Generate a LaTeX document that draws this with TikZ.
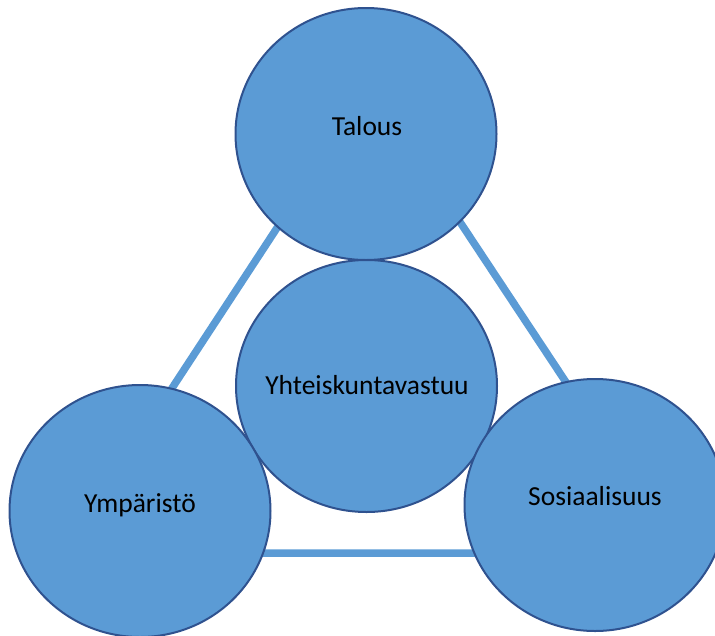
\documentclass[tikz,border=0pt]{standalone}
\usepackage{fontspec}
\setmainfont{Carlito}
\usetikzlibrary{shapes.geometric}
\definecolor{bfill}{HTML}{5B9BD5}
\definecolor{bline}{HTML}{2F528F}
\tikzset{
  bubble/.style={ellipse, draw=bline, line width=2pt, fill=bfill, inner sep=0pt,
    minimum width=261pt, minimum height=252pt},
  tri/.style={draw=bfill, line width=7.5pt, line join=miter},
  lbl/.style={anchor=base, font=\fontsize{27.5}{33}\selectfont, text=black, inner sep=0pt}
}
\begin{document}
\begin{tikzpicture}[x=1pt,y=-1pt]
\useasboundingbox (0,0) rectangle (715,635);
\coordinate (apex) at (370,86);
\coordinate (bl) at (64,553);
\coordinate (br) at (679,553);
\draw[tri] (apex) -- (bl) -- (br) -- cycle;
\node[bubble] (talous) at (366,134) {};
\node[bubble] (yht) at (366.5,386) {};
\node[bubble] (ymp) at (140,511) {};
\node[bubble] (sos) at (595,505) {};
\node[lbl] at (367,135) {Talous};
\node[lbl] at (367,394) {Yhteiskuntavastuu};
\node[lbl] at (140,512) {Ympäristö};
\node[lbl] at (595,505) {Sosiaalisuus};
\end{tikzpicture}
\end{document}
